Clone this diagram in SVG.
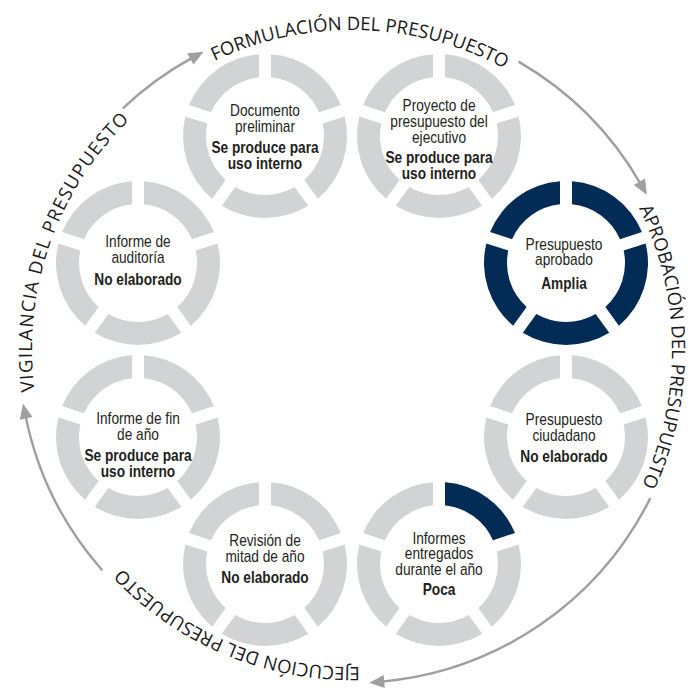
<svg xmlns="http://www.w3.org/2000/svg" xmlns:xlink="http://www.w3.org/1999/xlink" width="693" height="688" viewBox="0 0 693 688">
<style>
.t{font-family:"Liberation Sans",Arial,sans-serif;font-size:16.2px;fill:#231f20;text-anchor:middle}
.b{font-weight:bold}
.arc{font-family:"Open Sans","Noto Sans",sans-serif;font-size:18.5px;fill:#1a1a1a}
.conn{fill:none;stroke:#9f9f9f;stroke-width:2.4}
</style>
<defs>
<path id="seg" d="M6,-81.78 A82,82 0 0 1 75.93,-30.98 L53.97,-23.84 A59,59 0 0 0 6,-58.69 Z"/>
<g id="ring">
<use href="#seg"/>
<use href="#seg" transform="rotate(72)"/>
<use href="#seg" transform="rotate(144)"/>
<use href="#seg" transform="rotate(216)"/>
<use href="#seg" transform="rotate(288)"/>
</g>
<marker id="ah" markerUnits="userSpaceOnUse" markerWidth="20" markerHeight="20" viewBox="-2 -8 20 16" refX="2" refY="0" orient="auto">
<path d="M0,-6.5 L15,0 L0,6.5 Z" fill="#9f9f9f"/>
</marker>
<path id="tp1" d="M672,350 A320,320 0 0 1 32,350 A320,320 0 0 1 672,350"/>
<path id="tp2" d="M352,30 A320,320 0 0 1 352,670 A320,320 0 0 1 352,30"/>
<path id="tp3" d="M669,350 A317,317 0 0 1 35,350 A317,317 0 0 1 669,350"/>
</defs>

<g id="connectors">
<path class="conn" d="M122.8,108.4 A333,333 0 0 1 192.1,57.9" marker-end="url(#ah)"/>
<path class="conn" d="M518.5,61.6 A333,333 0 0 1 640.4,183.5" marker-end="url(#ah)"/>
<path class="conn" d="M650.3,498.1 A333,333 0 0 1 382.2,681.6" marker-end="url(#ah)"/>
<path class="conn" d="M102.2,570.2 A333,333 0 0 1 25.7,416.4" marker-end="url(#ah)"/>
</g>

<g id="phase-labels">
<text class="arc"><textPath href="#tp1" startOffset="1515.8" text-anchor="middle">FORMULACIÓN DEL PRESUPUESTO</textPath></text>
<text class="arc"><textPath href="#tp2" startOffset="499" text-anchor="middle">APROBACIÓN DEL PRESUPUESTO</textPath></text>
<text class="arc"><textPath href="#tp3" startOffset="622.4" text-anchor="middle">EJECUCIÓN DEL PRESUPUESTO</textPath></text>
<text class="arc" letter-spacing="1.2"><textPath href="#tp1" startOffset="1113" text-anchor="middle">VIGILANCIA DEL PRESUPUESTO</textPath></text>
</g>

<g id="n-documento" transform="translate(265,136)">
<use href="#ring" fill="#d1d3d4"/>
<g transform="scale(0.845,1)">
<text class="t" y="-20">Documento</text>
<text class="t" y="-4">preliminar</text>
<text class="t b" y="17">Se produce para</text>
<text class="t b" y="33">uso interno</text>
</g>
</g>

<g id="n-proyecto" transform="translate(439,136)">
<use href="#ring" fill="#d1d3d4"/>
<g transform="scale(0.845,1)">
<text class="t" y="-25">Proyecto de</text>
<text class="t" y="-9">presupuesto del</text>
<text class="t" y="7">ejecutivo</text>
<text class="t b" y="27">Se produce para</text>
<text class="t b" y="43">uso interno</text>
</g>
</g>

<g id="n-aprobado" transform="translate(566,263)">
<use href="#ring" fill="#022b56"/>
<g transform="translate(-2,0) scale(0.845,1)">
<text class="t" y="-13">Presupuesto</text>
<text class="t" y="2">aprobado</text>
<text class="t b" y="26">Amplia</text>
</g>
</g>

<g id="n-ciudadano" transform="translate(566,437)">
<use href="#ring" fill="#d1d3d4"/>
<g transform="translate(-2,0) scale(0.845,1)">
<text class="t" y="-12">Presupuesto</text>
<text class="t" y="4">ciudadano</text>
<text class="t b" y="25">No elaborado</text>
</g>
</g>

<g id="n-informes" transform="translate(439,564)">
<use href="#ring" fill="#d1d3d4"/>
<use href="#seg" fill="#022b56"/>
<g transform="scale(0.845,1)">
<text class="t" y="-20">Informes</text>
<text class="t" y="-5">entregados</text>
<text class="t" y="11">durante el año</text>
<text class="t b" y="31">Poca</text>
</g>
</g>

<g id="n-revision" transform="translate(265,564)">
<use href="#ring" fill="#d1d3d4"/>
<g transform="scale(0.845,1)">
<text class="t" y="-18">Revisión de</text>
<text class="t" y="-2">mitad de año</text>
<text class="t b" y="19">No elaborado</text>
</g>
</g>

<g id="n-findeano" transform="translate(138,437)">
<use href="#ring" fill="#d1d3d4"/>
<g transform="scale(0.845,1)">
<text class="t" y="-13">Informe de fin</text>
<text class="t" y="3">de año</text>
<text class="t b" y="24">Se produce para</text>
<text class="t b" y="40">uso interno</text>
</g>
</g>

<g id="n-auditoria" transform="translate(138,263)">
<use href="#ring" fill="#d1d3d4"/>
<g transform="scale(0.845,1)">
<text class="t" y="-16">Informe de</text>
<text class="t" y="0">auditoría</text>
<text class="t b" y="22">No elaborado</text>
</g>
</g>
</svg>
